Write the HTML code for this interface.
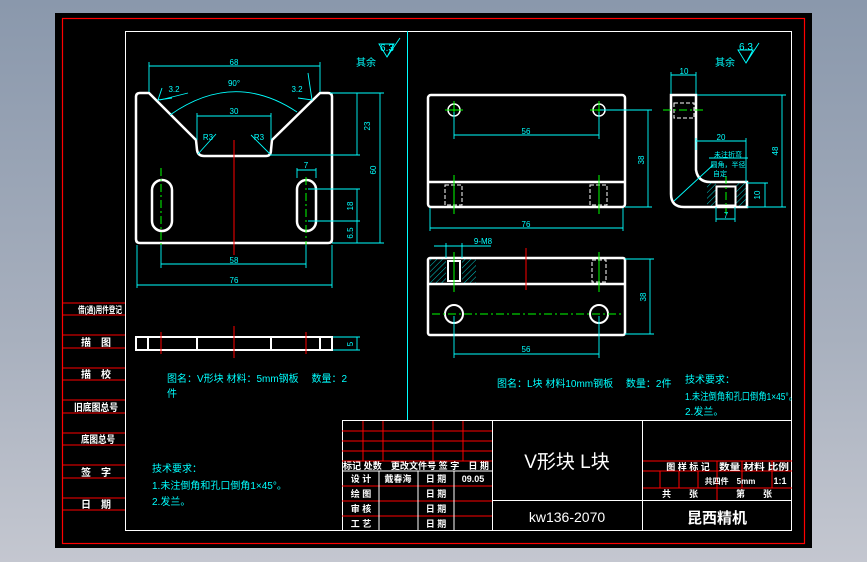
<!DOCTYPE html>
<html><head><meta charset="utf-8"><style>
html,body{margin:0;padding:0;width:867px;height:562px;overflow:hidden;background:linear-gradient(180deg,#8a98ac 0%,#a8b0be 60%,#c4c7d0 100%);}
svg{position:absolute;left:0;top:0}
text{font-family:"Liberation Sans","Noto Sans CJK SC",sans-serif}
</style></head><body>
<svg width="867" height="562" viewBox="0 0 867 562">
<defs>
<pattern id="h" width="4" height="4" patternUnits="userSpaceOnUse" patternTransform="rotate(45)"><line x1="0" y1="0" x2="0" y2="4" stroke="#00ffff" stroke-width="0.8"/></pattern>
</defs>
<rect x="55" y="13" width="757" height="535" fill="#000"/>
<rect x="62.5" y="18.5" width="742" height="525" fill="none" stroke="#ff0000" stroke-width="1.2"/>
<rect x="125.5" y="31.5" width="666" height="499" fill="none" stroke="#fff" stroke-width="1"/>
<line x1="407.5" y1="31" x2="407.5" y2="420" stroke="#00ffff"/>
<g stroke="#ff0000" stroke-width="1">
<line x1="62" y1="303" x2="125" y2="303"/><line x1="62" y1="315" x2="125" y2="315"/>
<line x1="62" y1="335" x2="125" y2="335"/><line x1="62" y1="348" x2="125" y2="348"/>
<line x1="62" y1="368" x2="125" y2="368"/><line x1="62" y1="380" x2="125" y2="380"/>
<line x1="62" y1="400" x2="125" y2="400"/><line x1="62" y1="413" x2="125" y2="413"/>
<line x1="62" y1="433" x2="125" y2="433"/><line x1="62" y1="445" x2="125" y2="445"/>
<line x1="62" y1="465" x2="125" y2="465"/><line x1="62" y1="478" x2="125" y2="478"/>
<line x1="62" y1="498" x2="125" y2="498"/><line x1="62" y1="510" x2="125" y2="510"/>
</g>
<g fill="#fff" font-size="10" font-weight="bold" text-anchor="middle">
<text x="100" y="313" font-size="9" textLength="44" lengthAdjust="spacingAndGlyphs">借(通)用件登记</text><text x="96" y="346">描　图</text>
<text x="96" y="378">描　校</text><text x="96" y="411" textLength="44" lengthAdjust="spacingAndGlyphs">旧底图总号</text>
<text x="98" y="443" textLength="34" lengthAdjust="spacingAndGlyphs">底图总号</text><text x="96" y="476">签　字</text><text x="96" y="508">日　期</text>
</g>
<g fill="none" stroke="#fff" stroke-width="2.5" stroke-linejoin="round">
<path d="M149,93 L196,140 L197,150 Q198,156 204,156 L266,156 Q271,156 271,150 L272,140 L320,93 L328,93 Q332,93 332,97 L332,239 Q332,243 328,243 L140,243 Q136,243 136,239 L136,97 Q136,93 140,93 Z"/>
<rect x="152" y="180" width="20" height="51" rx="10"/>
<rect x="297" y="180" width="19" height="51" rx="9.5"/>
</g>
<line x1="234" y1="140" x2="234" y2="255" stroke="#ff0000"/>
<g stroke="#00ff00" stroke-dasharray="8,3,2,3"><line x1="161" y1="168" x2="161" y2="245"/><line x1="306" y1="177" x2="306" y2="245"/></g>
<g stroke="#00ffff" stroke-width="0.9" fill="none">
<line x1="149" y1="66" x2="320" y2="66"/><line x1="149" y1="62" x2="149" y2="92"/><line x1="320" y1="62" x2="320" y2="92"/>
<path d="M170,115 Q234,70 297,112"/>
<line x1="197" y1="116" x2="271" y2="116"/><line x1="197" y1="113" x2="197" y2="140"/><line x1="271" y1="113" x2="271" y2="140"/>
<line x1="198" y1="154" x2="216" y2="134"/><line x1="270" y1="154" x2="251" y2="135"/>
<line x1="160" y1="100" x2="188" y2="93"/><path d="M162,88 L158,100 L172,98"/><path d="M308,73 L312,100 L298,98"/>
<line x1="330" y1="93" x2="384" y2="93"/><line x1="270" y1="155" x2="360" y2="155"/><line x1="332" y1="243" x2="384" y2="243"/>
<line x1="357" y1="93" x2="357" y2="155"/><line x1="380" y1="93" x2="380" y2="243"/>
<line x1="308" y1="189" x2="360" y2="189"/><line x1="308" y1="221" x2="360" y2="221"/><line x1="357" y1="189" x2="357" y2="243"/>
<line x1="297" y1="168" x2="297" y2="178"/><line x1="316" y1="168" x2="316" y2="178"/><line x1="297" y1="170" x2="316" y2="170"/>
<line x1="161" y1="245" x2="161" y2="268"/><line x1="306" y1="245" x2="306" y2="268"/><line x1="161" y1="264" x2="306" y2="264"/>
<line x1="137" y1="245" x2="137" y2="288"/><line x1="332" y1="245" x2="332" y2="288"/><line x1="137" y1="285" x2="332" y2="285"/>
<line x1="332" y1="337" x2="360" y2="337"/><line x1="332" y1="350" x2="360" y2="350"/><line x1="357" y1="337" x2="357" y2="350"/>
<path d="M379,44 L387,57 L394,44 Z M387,57 L400,38"/><path d="M738,50 L746,63 L753,50 Z M746,63 L759,43"/>
</g>
<g fill="#00ffff" font-size="8" text-anchor="middle">
<text x="234" y="65">68</text><text x="234" y="86">90°</text><text x="234" y="114">30</text>
<text x="208" y="140">R3</text><text x="259" y="140">R3</text><text x="174" y="92">3.2</text><text x="297" y="92">3.2</text>
<text x="306" y="168">7</text><text x="234" y="263">58</text><text x="234" y="283">76</text>
<text x="370" y="126" transform="rotate(-90 370 126)">23</text><text x="376" y="170" transform="rotate(-90 376 170)">60</text>
<text x="353" y="206" transform="rotate(-90 353 206)">18</text><text x="353" y="233" transform="rotate(-90 353 233)">6.5</text>
<text x="353" y="344" transform="rotate(-90 353 344)">5</text>
<text x="387" y="51" font-size="10">6.3</text><text x="366" y="66" font-size="10">其余</text>
<text x="746" y="50" font-size="10">6.3</text><text x="725" y="66" font-size="10">其余</text>
</g>
<g fill="none" stroke="#fff" stroke-width="2"><rect x="136" y="337" width="196" height="13"/>
<line x1="148" y1="337" x2="148" y2="350"/><line x1="197" y1="337" x2="197" y2="350"/><line x1="271" y1="337" x2="271" y2="350"/><line x1="320" y1="337" x2="320" y2="350"/></g>
<g stroke="#ff0000"><line x1="161" y1="332" x2="161" y2="354"/><line x1="234" y1="326" x2="234" y2="358"/><line x1="306" y1="332" x2="306" y2="354"/></g>
<g fill="#00ffff" font-size="10">
<text x="167" y="382">图名：V形块 材料：5mm钢板　 数量：2</text><text x="167" y="397">件</text>
<text x="152" y="472">技术要求：</text><text x="152" y="489">1.未注倒角和孔口倒角1×45°。</text><text x="152" y="505">2.发兰。</text>
<text x="497" y="387">图名：L块 材料10mm钢板　 数量：2件</text>
<text x="685" y="383">技术要求：</text><text x="685" y="400" textLength="112" lengthAdjust="spacingAndGlyphs">1.未注倒角和孔口倒角1×45°。</text><text x="685" y="415">2.发兰。</text>
</g>
<g fill="none" stroke="#fff" stroke-width="2.5">
<rect x="428" y="95" width="197" height="112" rx="3"/><line x1="428" y1="182" x2="625" y2="182"/>
<circle cx="454" cy="110" r="6" stroke-width="1.5"/><circle cx="599" cy="110" r="6" stroke-width="1.5"/>
</g>
<g fill="none" stroke="#fff" stroke-width="1" stroke-dasharray="4,2">
<rect x="445" y="185" width="17" height="20"/><rect x="590" y="185" width="17" height="20"/>
</g>
<g stroke="#00ff00"><line x1="445" y1="110" x2="463" y2="110"/><line x1="590" y1="110" x2="608" y2="110"/><line x1="454" y1="101" x2="454" y2="119"/><line x1="599" y1="101" x2="599" y2="119"/>
<line x1="454" y1="175" x2="454" y2="214"/><line x1="599" y1="175" x2="599" y2="214"/></g>
<g stroke="#00ffff" stroke-width="0.9" fill="none">
<line x1="454" y1="112" x2="454" y2="139"/><line x1="599" y1="112" x2="599" y2="139"/><line x1="454" y1="135" x2="599" y2="135"/>
<line x1="430" y1="208" x2="430" y2="231"/><line x1="623" y1="208" x2="623" y2="231"/><line x1="430" y1="228" x2="623" y2="228"/>
<line x1="600" y1="110" x2="652" y2="110"/><line x1="625" y1="207" x2="652" y2="207"/><line x1="648" y1="110" x2="648" y2="207"/>
</g>
<g fill="none" stroke="#fff" stroke-width="2.5">
<path d="M671,95 L696,95 L696,170 Q698,182 710,182 L747,182 L747,207 L684,207 Q671,207 671,194 Z"/>
</g>
<rect x="707" y="183" width="9" height="23" fill="url(#h)"/><rect x="736" y="183" width="10" height="23" fill="url(#h)"/>
<rect x="716.5" y="186.5" width="19" height="19" fill="none" stroke="#fff" stroke-width="2"/>
<rect x="674" y="103" width="20" height="15" fill="none" stroke="#fff" stroke-width="1" stroke-dasharray="4,2"/>
<g stroke="#00ff00" stroke-dasharray="8,3,2,3"><line x1="663" y1="110" x2="703" y2="110"/><line x1="726" y1="176" x2="726" y2="214"/></g>
<g stroke="#00ffff" stroke-width="0.9" fill="none">
<line x1="671" y1="72" x2="671" y2="94"/><line x1="696" y1="72" x2="696" y2="94"/><line x1="671" y1="75" x2="696" y2="75"/>
<line x1="697" y1="95" x2="786" y2="95"/><line x1="747" y1="207" x2="786" y2="207"/><line x1="782" y1="95" x2="782" y2="207"/>
<line x1="696" y1="138" x2="696" y2="150"/><line x1="746" y1="138" x2="746" y2="182"/><line x1="696" y1="141" x2="746" y2="141"/>
<line x1="747" y1="183" x2="768" y2="183"/><line x1="765" y1="183" x2="765" y2="207"/>
<line x1="716" y1="207" x2="716" y2="222"/><line x1="735" y1="207" x2="735" y2="222"/><line x1="716" y1="219" x2="735" y2="219"/>
<line x1="674" y1="201" x2="713" y2="165"/><line x1="709" y1="158" x2="748" y2="158"/>
</g>
<g fill="#00ffff" font-size="8" text-anchor="middle">
<text x="526" y="134">56</text><text x="526" y="227">76</text><text x="684" y="74">10</text><text x="721" y="140">20</text>
<text x="644" y="160" transform="rotate(-90 644 160)">38</text><text x="778" y="151" transform="rotate(-90 778 151)">48</text>
<text x="760" y="195" transform="rotate(-90 760 195)">10</text><text x="726" y="218">7</text>
<text x="728" y="157" font-size="7">未注折弯</text><text x="728" y="167" font-size="7">圆角，半径</text><text x="720" y="176" font-size="7">自定</text>
</g>
<g fill="none" stroke="#fff" stroke-width="2.5">
<rect x="428" y="258" width="197" height="77" rx="2"/><line x1="428" y1="284" x2="625" y2="284"/>
<circle cx="454" cy="314" r="9" stroke-width="2"/><circle cx="599" cy="314" r="9" stroke-width="2"/>
</g>
<rect x="430" y="259" width="16" height="24" fill="url(#h)"/><rect x="462" y="259" width="14" height="24" fill="url(#h)"/>
<rect x="448" y="261" width="12" height="20" fill="none" stroke="#fff" stroke-width="2"/>
<rect x="592" y="260" width="14" height="22" fill="none" stroke="#fff" stroke-width="1" stroke-dasharray="4,2"/>
<line x1="526" y1="248" x2="526" y2="290" stroke="#ff0000"/>
<g stroke="#00ff00"><line x1="432" y1="314" x2="622" y2="314" stroke-dasharray="8,3,2,3"/><line x1="454" y1="252" x2="454" y2="292"/><line x1="599" y1="252" x2="599" y2="292"/></g>
<g stroke="#00ffff" stroke-width="0.9" fill="none">
<line x1="454" y1="316" x2="454" y2="358"/><line x1="599" y1="316" x2="599" y2="358"/><line x1="454" y1="354" x2="599" y2="354"/>
<line x1="625" y1="259" x2="654" y2="259"/><line x1="625" y1="334" x2="654" y2="334"/><line x1="650" y1="259" x2="650" y2="334"/>
<line x1="434" y1="246" x2="491" y2="246"/><line x1="446" y1="243" x2="446" y2="258"/><line x1="462" y1="243" x2="462" y2="258"/>
</g>
<g fill="#00ffff" font-size="8" text-anchor="middle"><text x="526" y="352">56</text><text x="483" y="244">9-M8</text>
<text x="646" y="297" transform="rotate(-90 646 297)">38</text></g>
<rect x="342.5" y="420.5" width="449" height="110" fill="none" stroke="#fff"/>
<g stroke="#ff0000">
<line x1="342" y1="431" x2="492" y2="431"/><line x1="342" y1="441" x2="492" y2="441"/><line x1="342" y1="451" x2="492" y2="451"/><line x1="342" y1="461" x2="492" y2="461"/>
<line x1="363" y1="421" x2="363" y2="461"/><line x1="383" y1="421" x2="383" y2="461"/><line x1="433" y1="421" x2="433" y2="461"/><line x1="463" y1="421" x2="463" y2="461"/>
<line x1="342" y1="486" x2="492" y2="486"/><line x1="342" y1="501" x2="492" y2="501"/><line x1="342" y1="516" x2="492" y2="516"/>
<line x1="642" y1="461" x2="792" y2="461"/><line x1="642" y1="471" x2="792" y2="471"/><line x1="642" y1="488" x2="792" y2="488"/>
<line x1="660" y1="471" x2="660" y2="488"/><line x1="679" y1="471" x2="679" y2="488"/><line x1="698" y1="471" x2="698" y2="488"/>
<line x1="717" y1="461" x2="717" y2="500"/><line x1="742" y1="461" x2="742" y2="488"/><line x1="772" y1="461" x2="772" y2="488"/>
</g>
<g stroke="#fff">
<line x1="342" y1="471" x2="492" y2="471"/><line x1="379" y1="471" x2="379" y2="530"/><line x1="418" y1="471" x2="418" y2="530"/><line x1="454" y1="471" x2="454" y2="530"/>
<line x1="492.5" y1="421" x2="492.5" y2="530"/><line x1="642.5" y1="421" x2="642.5" y2="530"/><line x1="492" y1="500.5" x2="792" y2="500.5"/>
</g>
<g fill="#fff" font-size="9" font-weight="bold" text-anchor="middle">
<text x="416" y="469" textLength="146" lengthAdjust="spacingAndGlyphs">标记 处数　更改文件号 签 字　日 期</text>
<text x="361" y="482">设 计</text><text x="398" y="482">戴春海</text><text x="436" y="482">日 期</text><text x="473" y="482">09.05</text>
<text x="361" y="497">绘 图</text><text x="436" y="497">日 期</text>
<text x="361" y="512">审 核</text><text x="436" y="512">日 期</text>
<text x="361" y="527">工 艺</text><text x="436" y="527">日 期</text>
<text x="688" y="470">图 样 标 记</text><text x="754" y="470" textLength="70" lengthAdjust="spacingAndGlyphs">数量 材料 比例</text>
<text x="730" y="484" font-size="8">共四件　5mm</text><text x="780" y="484">1:1</text>
<text x="680" y="497">共　　张</text><text x="754" y="497">第　　张</text>
<text x="567" y="468" font-size="19" font-weight="normal">V形块 L块</text>
<text x="567" y="522" font-size="14" font-weight="normal">kw136-2070</text>
<text x="717" y="523" font-size="15">昆西精机</text>
</g>
</svg>
</body></html>
